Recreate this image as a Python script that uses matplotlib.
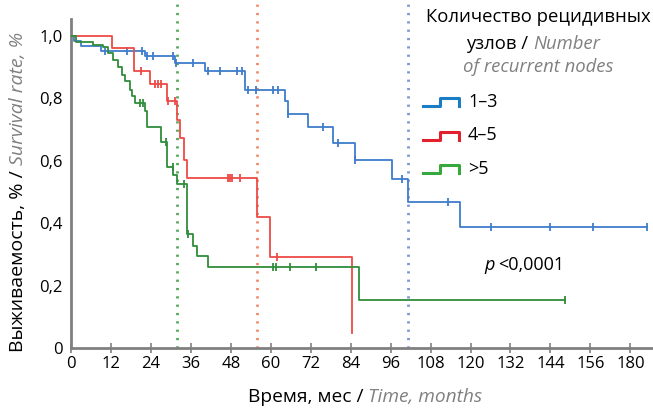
import numpy as np
import matplotlib
matplotlib.use("Agg")
import matplotlib.pyplot as plt

plt.rcParams["font.family"] = ["Open Sans", "DejaVu Sans"]

# Kaplan-Meier steps (months, survival)
blue_t = [0, 1, 3, 9, 22.2, 31.2, 40.2, 52.3, 64.3, 65.2, 71.2, 78.7, 85.3, 96.4, 101.2, 116.8, 173]
blue_s = [1.0, 0.985, 0.967, 0.953, 0.934, 0.912, 0.886, 0.825, 0.79, 0.75, 0.709, 0.658, 0.603, 0.542, 0.469, 0.389, 0.389]
blue_cens = [10.2, 16.8, 21.3, 22.8, 24.6, 30.6, 31.5, 36.6, 41.1, 44.7, 49.8, 51.4, 53.2, 55.6,
             60.7, 62.2, 65.2, 75.7, 80.2, 85.3, 99.4, 113.2, 126, 143.8, 156.8, 173]

red_t = [0, 12.2, 18.9, 23.7, 28.8, 31.8, 32.7, 33.9, 34.8, 55.9, 59.8, 84.4]
red_s = [1.0, 0.96, 0.886, 0.846, 0.79, 0.73, 0.673, 0.603, 0.545, 0.42, 0.293, 0.049]
red_cens = [21, 25.2, 26, 27, 29.1, 31.2, 47.1, 47.7, 48.4, 50.8, 61.9]

green_t = [0, 1.5, 6.6, 9.6, 11.1, 12.6, 14.1, 15.2, 16.2, 17.7, 18.3, 19.2, 22.2, 22.7, 26.9,
           28.7, 30.7, 31.7, 34.7, 36.7, 37.7, 41.2, 86.6, 148.3]
green_s = [1.0, 0.981, 0.971, 0.964, 0.945, 0.923, 0.90, 0.875, 0.854, 0.827, 0.806, 0.784, 0.758,
           0.709, 0.661, 0.581, 0.555, 0.527, 0.364, 0.328, 0.295, 0.259, 0.154, 0.154]
green_cens = [20.7, 21.6, 28.5, 30.6, 33.9, 35.2, 60.7, 61.6, 65.8, 73.6, 148.3]

medians = [31.7, 55.8, 101.2]   # green, red, blue dotted lines
xticks = list(range(0, 169, 12))
xtick_labels = [str(v) for v in xticks[:-1]] + ["180"]
yticks = [0, 0.2, 0.4, 0.6, 0.8, 1.0]
ytick_labels = ["0", "0,2", "0,4", "0,6", "0,8", "1,0"]
groups = ["1–3", "4–5", ">5"]

BLUE = "#3f7dcb"; RED = "#ee4b45"; GREEN = "#2f8d3c"
LEG = ["#1a7cc2", "#e2202e", "#37a83c"]
DOT = ["#55a85a", "#f08a6a", "#7b96d6"]
GRAY = "#808080"

W, H = 653, 408
fig = plt.figure(figsize=(W / 100, H / 100), dpi=100)
ax = fig.add_axes([71 / W, (H - 348) / H, (W - 71) / W, (348 - 19) / H])
ax.set_xlim(0, 174.8)
ax.set_ylim(0, 1.054)


def at(t, s, x):
    i = np.searchsorted(t, x, side="right") - 1
    return s[i]


for t, s, c, cens in ((blue_t, blue_s, BLUE, blue_cens), (red_t, red_s, RED, red_cens),
                      (green_t, green_s, GREEN, green_cens)):
    ax.step(t, s, where="post", color=c, lw=1.3, zorder=3)
    ax.plot(cens, [at(t, s, x) for x in cens], ls="none", marker="|", ms=6, mew=1.3, color=c, zorder=3)

for m, c in zip(medians, DOT):
    ax.plot([m, m], [0, 1.12], color=c, lw=2, ls=(0, (0.8, 2.2)), clip_on=False, zorder=2)

for s in ("top", "right"):
    ax.spines[s].set_visible(False)
for s in ("left", "bottom"):
    ax.spines[s].set_color(GRAY)
    ax.spines[s].set_linewidth(2)
ax.set_xticks(xticks)
ax.set_xticklabels(xtick_labels, fontsize=12)
ax.tick_params(axis="x", direction="inout", length=7, width=1.2, color=GRAY, pad=2)
ax.set_yticks(yticks)
ax.set_yticklabels(ytick_labels, fontsize=12)
ax.tick_params(axis="y", length=0, pad=6)

# overlay in pixel coordinates for labels and legend
ov = fig.add_axes([0, 0, 1, 1], facecolor="none")
ov.set_xlim(0, W); ov.set_ylim(H, 0); ov.axis("off")

t = ov.text(248, 402, "Время, мес / ", fontsize=13.8, va="baseline", ha="left")
ov.annotate("Time, months", xy=(1, 0), xycoords=t, ha="left", va="bottom", fontsize=13.8,
            style="italic", color=GRAY)

t = ov.text(18, 352, "Выживаемость, % / ", fontsize=14, va="bottom", ha="center", rotation=90)
ov.annotate("Survival rate, %", xy=(0.5, 1), xycoords=t, ha="center", va="bottom", rotation=90,
            fontsize=14, style="italic", color=GRAY)

ov.text(538, 17, "Количество рецидивных", fontsize=13.3, ha="center", va="center")
t = ov.text(466, 49, "узлов / ", fontsize=13.3, ha="left", va="baseline")
ov.annotate("Number", xy=(1, 0), xycoords=t, ha="left", va="bottom", fontsize=13.3,
            style="italic", color=GRAY)
ov.text(538, 67, "of recurrent nodes", fontsize=13.3, ha="center", va="center", style="italic", color=GRAY)

for i, (g, c) in enumerate(zip(groups, LEG)):
    y0 = 106 + i * 33.5
    ov.plot([423, 440, 440, 459, 459], [y0, y0, y0 - 8, y0 - 8, y0], color=c, lw=2.2)
    ov.text(468, y0 - 4, g, fontsize=13, ha="left", va="center")

ov.text(484, 265, "p", fontsize=13, ha="left", va="center", style="italic")
ov.text(498, 265, "<0,0001", fontsize=13, ha="left", va="center")

fig.savefig("out.png", dpi=100)
